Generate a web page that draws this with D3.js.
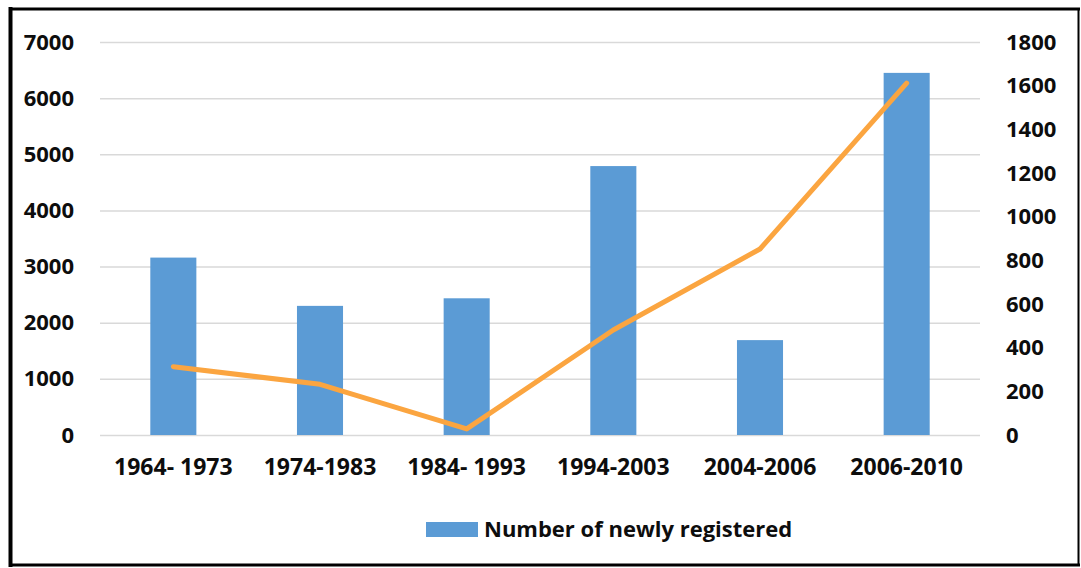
<!DOCTYPE html>
<html>
<head>
<meta charset="utf-8">
<script src="https://cdn.jsdelivr.net/npm/d3@7/dist/d3.min.js"></script>
<style>
  html, body { margin: 0; padding: 0; background: #fff; }
  svg { display: block; }
  text { font-family: "Open Sans", "Noto Sans", sans-serif; font-weight: 700; fill: #0d0d0d; }
</style>
</head>
<body>
<svg id="chart" width="1081" height="568"></svg>
<script>
// Periods on the category axis
const periods = ["1964- 1973", "1974-1983", "1984- 1993", "1994-2003", "2004-2006", "2006-2010"];
// Bars: number of newly registered (left axis)
const newlyRegistered = [3160, 2300, 2435, 4790, 1690, 6450];
// Line: second series (right axis)
const lineValues = [313, 232, 28, 481, 852, 1612];
// Tick labels
const leftTicks = [0, 1000, 2000, 3000, 4000, 5000, 6000, 7000];
const rightTicks = [0, 200, 400, 600, 800, 1000, 1200, 1400, 1600, 1800];
const legendLabel = "Number of newly registered";

const svg = d3.select("#chart");
const plot = { left: 100, right: 980, top: 42, bottom: 435 };

const x = d3.scaleBand()
  .domain(periods)
  .range([plot.left, plot.right])
  .paddingInner(0.686)
  .paddingOuter(0.343);

const yLeft = d3.scaleLinear().domain([0, 7000]).range([plot.bottom, plot.top]);
const yRight = d3.scaleLinear().domain([0, 1800]).range([plot.bottom, plot.top]);

const styleText = g => g.selectAll("text")
  .style("font-family", "'Open Sans', sans-serif")
  .style("font-weight", 700)
  .attr("fill", "#0d0d0d");

// Frame around the chart
svg.append("line").attr("x1", 10.5).attr("x2", 10.5).attr("y1", 7).attr("y2", 567)
  .attr("stroke", "#000").attr("stroke-width", 4);
svg.append("line").attr("x1", 9).attr("x2", 1080).attr("y1", 9).attr("y2", 9)
  .attr("stroke", "#000").attr("stroke-width", 3);
svg.append("line").attr("x1", 9).attr("x2", 1080).attr("y1", 565).attr("y2", 565)
  .attr("stroke", "#000").attr("stroke-width", 3);
svg.append("line").attr("x1", 1078.5).attr("x2", 1078.5).attr("y1", 8).attr("y2", 566)
  .attr("stroke", "#000").attr("stroke-width", 2);

// Horizontal gridlines
svg.append("g").attr("class", "grid")
  .attr("transform", `translate(${plot.left},0)`)
  .call(d3.axisLeft(yLeft).tickValues(leftTicks).tickSize(-(plot.right - plot.left)).tickFormat(""))
  .call(g => g.select(".domain").remove())
  .call(g => g.selectAll("line").attr("stroke", "#d9d9d9").attr("stroke-width", 1.5));

// Left axis labels
svg.append("g")
  .attr("transform", `translate(${plot.left},0)`)
  .call(d3.axisLeft(yLeft).tickValues(leftTicks).tickSize(0).tickPadding(26).tickFormat(d3.format("d")))
  .call(g => g.select(".domain").remove())
  .call(styleText)
  .call(g => g.selectAll("text").style("font-size", "22px"));

// Right axis labels
svg.append("g")
  .attr("transform", `translate(${plot.right},0)`)
  .call(d3.axisRight(yRight).tickValues(rightTicks).tickSize(0).tickPadding(26).tickFormat(d3.format("d")))
  .call(g => g.select(".domain").remove())
  .call(styleText)
  .call(g => g.selectAll("text").style("font-size", "22px"));

// Bars
svg.append("g").selectAll("rect")
  .data(periods)
  .join("rect")
  .attr("x", d => x(d))
  .attr("width", x.bandwidth())
  .attr("y", (d, i) => yLeft(newlyRegistered[i]))
  .attr("height", (d, i) => yLeft(0) - yLeft(newlyRegistered[i]))
  .attr("fill", "#5b9bd5");

// Line on the secondary axis
const line = d3.line()
  .x((d, i) => x(periods[i]) + x.bandwidth() / 2)
  .y(d => yRight(d));
svg.append("path")
  .datum(lineValues)
  .attr("d", line)
  .attr("fill", "none")
  .attr("stroke", "#fba540")
  .attr("stroke-width", 5)
  .attr("stroke-linejoin", "round")
  .attr("stroke-linecap", "round");

// Category axis labels
svg.append("g")
  .attr("transform", `translate(0,${plot.bottom})`)
  .call(d3.axisBottom(x).tickSize(0).tickPadding(24))
  .call(g => g.select(".domain").remove())
  .call(styleText)
  .call(g => g.selectAll("text").style("font-size", "23px"));

// Legend
const legend = svg.append("g");
legend.append("rect")
  .attr("x", 426).attr("y", 522).attr("width", 52).attr("height", 15)
  .attr("fill", "#5b9bd5");
legend.append("text")
  .attr("x", 484).attr("y", 537)
  .style("font-size", "22px")
  .text(legendLabel);
</script>
</body>
</html>
